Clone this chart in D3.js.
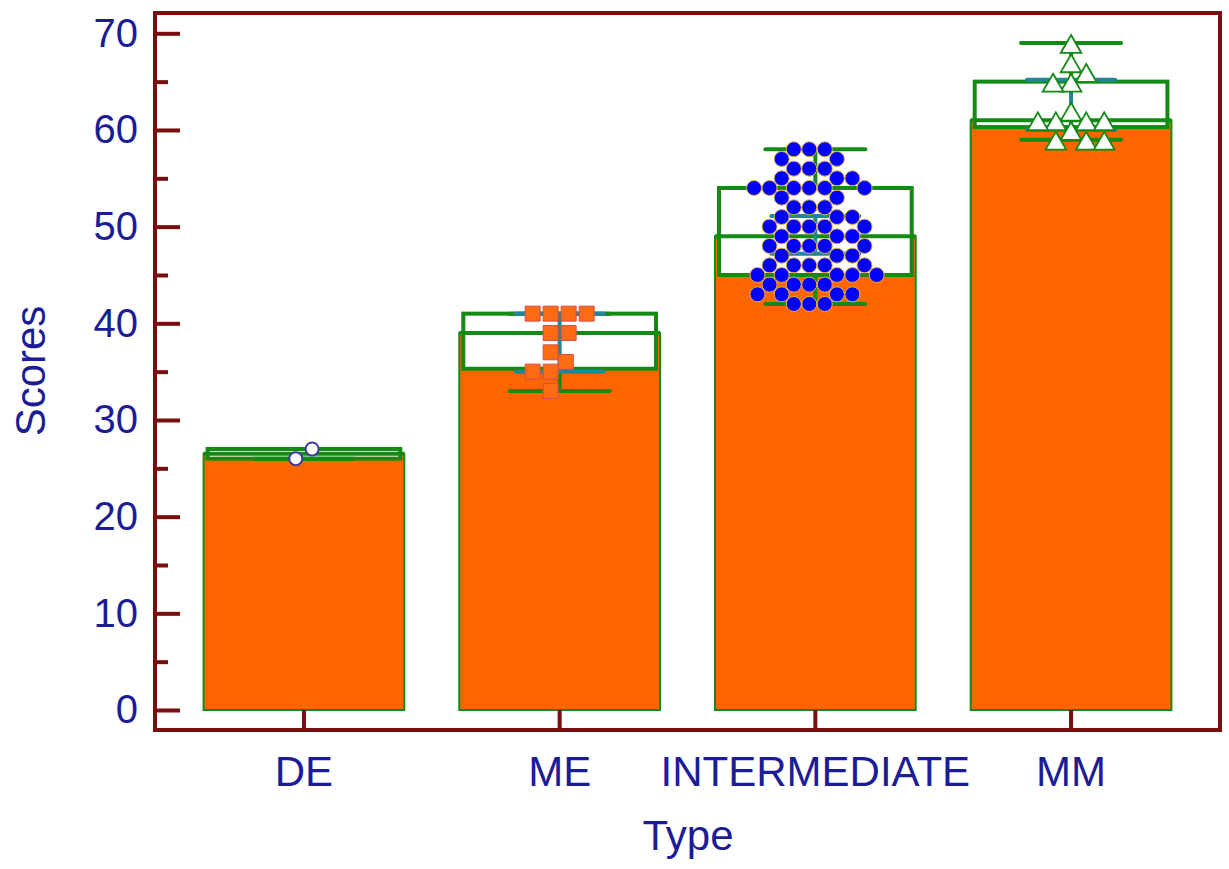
<!DOCTYPE html>
<html>
<head>
<meta charset="utf-8">
<script src="https://cdn.jsdelivr.net/npm/d3@7"></script>
<style>
  body { margin: 0; background: #fff; }
  text { font-family: "Liberation Sans", Arial, sans-serif; }
</style>
</head>
<body>
<div id="chart"></div>
<script>

// categories + summary values
const categories = ["DE", "ME", "INTERMEDIATE", "MM"];
const medians    = [26.5, 39, 49, 61];
const q1         = [26, 35.3, 45, 60.3];
const q3         = [27, 41, 54, 65];
const mins       = [26, 33, 42, 59];
const maxs       = [27, 41, 58, 69];
const sdLow      = [null, 35, 47.2, 60];
const sdHigh     = [null, 41, 51.1, 65.2];

// individual observations
const pointsDE  = [26, 27];
const pointsME  = [41, 41, 41, 41, 39, 39, 37, 36, 35, 35, 33];
const pointsINT = [58, 58, 58, 57, 57, 56, 56, 56, 55, 55, 55,
                   54, 54, 54, 54, 54, 54, 53, 53, 52, 52, 52,
                   51, 51, 51, 50, 50, 50, 50, 50, 49, 49, 49,
                   48, 48, 48, 48, 48, 47, 47, 47, 46, 46, 46, 46, 46,
                   45, 45, 45, 45, 45, 44, 44, 44, 44,
                   43, 43, 43, 43, 42, 42, 42];
const pointsMM  = [69, 67, 66, 65, 65, 62, 61, 61, 61, 61, 60, 59, 59, 59];

const yTicks = [0, 10, 20, 30, 40, 50, 60, 70];
const yMinor = [5, 15, 25, 35, 45, 55, 65];

const W = 1229, H = 869;
const frame = { left: 155, top: 13, right: 1220, bottom: 730 };

const axisColor = "#7a0d0d";
const textColor = "#1c1c96";
const green = "#138a13";
const teal  = "#1f8796";

const svg = d3.select("#chart").append("svg")
  .attr("width", W)
  .attr("height", H)
  .style("background", "#fff");

const y = d3.scaleLinear().domain([0, 70]).range([710, 33.3]);
const x = d3.scaleBand().domain(categories)
  .range([frame.left, frame.right])
  .paddingInner(0.215)
  .paddingOuter(0.19);

const bw = x.bandwidth();
const cx = c => x(c) + bw / 2;

const groups = categories.map((c, i) => ({
  cat: c, med: medians[i], q1: q1[i], q3: q3[i],
  min: mins[i], max: maxs[i], lo: sdLow[i], hi: sdHigh[i]
}));

// BARS (median)
svg.append("g").selectAll("rect")
  .data(groups)
  .join("rect")
  .attr("x", d => x(d.cat))
  .attr("width", bw)
  .attr("y", d => y(d.med))
  .attr("height", d => y(0) - y(d.med))
  .attr("fill", "#ff6600")
  .attr("stroke", green)
  .attr("stroke-width", 2);

// BOXES
const boxW = bw - 8;
svg.append("g").selectAll("rect")
  .data(groups)
  .join("rect")
  .attr("x", d => cx(d.cat) - boxW / 2)
  .attr("width", boxW)
  .attr("y", d => y(d.q3))
  .attr("height", d => y(d.q1) - y(d.q3))
  .attr("fill", "#fff")
  .attr("stroke", green)
  .attr("stroke-width", 4);

// median line
svg.append("g").selectAll("line")
  .data(groups)
  .join("line")
  .attr("x1", d => x(d.cat)).attr("x2", d => x(d.cat) + bw)
  .attr("y1", d => y(d.med)).attr("y2", d => y(d.med))
  .attr("stroke", green)
  .attr("stroke-width", 4);

// WHISKERS
const whisk = svg.append("g")
  .attr("stroke", green)
  .attr("stroke-width", 4)
  .attr("stroke-linecap", "round");

groups.forEach(d => {
  const c = cx(d.cat);
  whisk.append("line").attr("x1", c).attr("x2", c).attr("y1", y(d.q3)).attr("y2", y(d.max));
  whisk.append("line").attr("x1", c).attr("x2", c).attr("y1", y(d.q1)).attr("y2", y(d.min));
  whisk.append("line").attr("x1", c - 50).attr("x2", c + 50).attr("y1", y(d.max)).attr("y2", y(d.max));
  whisk.append("line").attr("x1", c - 50).attr("x2", c + 50).attr("y1", y(d.min)).attr("y2", y(d.min));
});

// MEAN +/- SD
const sd = svg.append("g")
  .attr("stroke", teal)
  .attr("stroke-width", 4)
  .attr("stroke-linecap", "round");

groups.filter(d => d.lo != null).forEach(d => {
  const c = cx(d.cat);
  sd.append("line").attr("x1", c).attr("x2", c).attr("y1", y(d.lo)).attr("y2", y(d.hi));
  sd.append("line").attr("x1", c - 44).attr("x2", c + 44).attr("y1", y(d.lo)).attr("y2", y(d.lo));
  sd.append("line").attr("x1", c - 44).attr("x2", c + 44).attr("y1", y(d.hi)).attr("y2", y(d.hi));
});

// simple beeswarm: closest free spot to the centre line
function swarm(values, dia){
  const placed = [];
  values.forEach(v => {
    const py = y(v);
    const cands = [0];
    placed.forEach(p => {
      const dy = Math.abs(p.y - py);
      if(dy < dia){
        const dx = Math.sqrt(dia * dia - dy * dy);
        cands.push(p.x + dx, p.x - dx);
      }
    });
    cands.sort((a, b) => Math.abs(a) - Math.abs(b));
    const px = cands.find(c => placed.every(p => (p.x - c) ** 2 + (p.y - py) ** 2 >= dia * dia - 0.5));
    placed.push({ x: px, y: py, v: v });
  });
  const mid = (d3.min(placed, p => p.x) + d3.max(placed, p => p.x)) / 2;
  placed.forEach(p => p.x -= mid);
  return placed;
}

const markers = [
  { cat: "DE", values: pointsDE, dia: 19, type: d3.symbolCircle, size: Math.PI * 6.5 * 6.5,
    fill: "#fff", stroke: "#3d3d9e", sw: 2, dy: 0 },
  { cat: "ME", values: pointsME, dia: 18, type: d3.symbolSquare, size: 15 * 15,
    fill: "#ff6a14", stroke: "#d2504a", sw: 1, dy: 0 },
  { cat: "INTERMEDIATE", values: pointsINT, dia: 15.5, type: d3.symbolCircle, size: Math.PI * 7.5 * 7.5,
    fill: "#0000ff", stroke: "#e8b040", sw: 1, dy: 0 },
  { cat: "MM", values: pointsMM, dia: 18, type: d3.symbolTriangle, size: 185,
    fill: "#fff", stroke: green, sw: 1.8, dy: 4 }
];

markers.forEach(m => {
  const pts = swarm(m.values, m.dia);
  const c = cx(m.cat);
  svg.append("g").selectAll("path")
    .data(pts)
    .join("path")
    .attr("d", d3.symbol(m.type, m.size))
    .attr("transform", p => "translate(" + (c + p.x) + "," + (p.y + m.dy) + ")")
    .attr("fill", m.fill)
    .attr("stroke", m.stroke)
    .attr("stroke-width", m.sw);
});

// FRAME
svg.append("rect")
  .attr("x", frame.left)
  .attr("y", frame.top)
  .attr("width", frame.right - frame.left)
  .attr("height", frame.bottom - frame.top)
  .attr("fill", "none")
  .attr("stroke", axisColor)
  .attr("stroke-width", 4);

// Y AXIS (ticks point inward)
const yAxis = svg.append("g")
  .attr("transform", "translate(" + frame.left + ",0)")
  .call(d3.axisLeft(y).tickValues(yTicks).tickSize(-25).tickPadding(17));

const yMinorAxis = svg.append("g")
  .attr("transform", "translate(" + frame.left + ",0)")
  .call(d3.axisLeft(y).tickValues(yMinor).tickSize(-13).tickFormat(""));

// X AXIS
const xAxis = svg.append("g")
  .attr("transform", "translate(0," + frame.bottom + ")")
  .call(d3.axisBottom(x).tickSize(-20).tickPadding(26));

[yAxis, yMinorAxis, xAxis].forEach(g => {
  g.select(".domain").remove();
  g.selectAll(".tick line").attr("stroke", axisColor).attr("stroke-width", 4);
  g.selectAll(".tick text").attr("fill", textColor);
});
yAxis.selectAll(".tick text").style("font-size", "40px");
xAxis.selectAll(".tick text").style("font-size", "42px");

// TITLES
svg.append("text")
  .attr("transform", "translate(45,371) rotate(-90)")
  .attr("text-anchor", "middle")
  .attr("fill", textColor)
  .style("font-size", "42px")
  .text("Scores");

svg.append("text")
  .attr("x", 688)
  .attr("y", 850)
  .attr("text-anchor", "middle")
  .attr("fill", textColor)
  .style("font-size", "42px")
  .text("Type");

</script>
</body>
</html>
